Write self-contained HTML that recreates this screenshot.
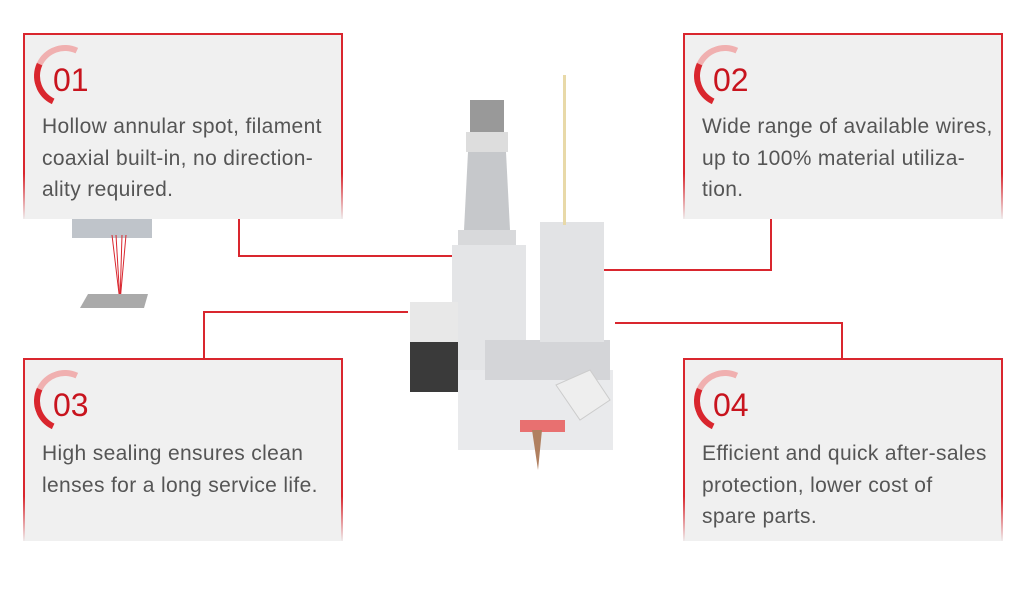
<!DOCTYPE html>
<html><head><style>
body{margin:0;width:1024px;height:596px;background:#fff;position:relative;overflow:hidden;font-family:"Liberation Sans",sans-serif}
.box{position:absolute;width:320px;background:#f0f0f0;border:2px solid #d9262e;border-bottom:none;box-sizing:border-box;
 border-image:linear-gradient(#d9262e 75%,rgba(217,38,46,0)) 1;}
.num{position:absolute;left:28px;top:27px;font-size:32px;color:#c8141e}
.ring{position:absolute;left:9px;top:10px;width:50px;height:50px;border-radius:50%;border:6px solid transparent;border-left-color:#d9262e;border-top-color:#f0b0b0;transform:rotate(-20deg)}
.txt{position:absolute;left:17px;font-size:21px;letter-spacing:0.35px;line-height:31.5px;color:#555;white-space:nowrap}
.l{position:absolute;background:#d9262e}
</style></head><body>
<div style="position:absolute;left:72px;top:218px;width:80px;height:20px;background:#bfc4ca"></div>
<svg style="position:absolute;left:78px;top:230px" width="80" height="80"><g stroke="#d9262e" stroke-width="1"><line x1="38" y1="5" x2="42" y2="72"/><line x1="44" y1="5" x2="42" y2="72"/><line x1="34" y1="5" x2="42" y2="72"/><line x1="48" y1="5" x2="42" y2="72"/></g><polygon points="10,64 70,64 66,78 2,78" fill="#aaa"/></svg>

<div class="box" style="left:23px;top:33px;height:186px"><div class="ring"></div><div class="num">01</div><div class="txt" style="top:76px">Hollow annular spot, filament<br>coaxial built-in, no direction-<br>ality required.</div></div>
<div class="box" style="left:683px;top:33px;height:186px"><div class="ring"></div><div class="num">02</div><div class="txt" style="top:76px">Wide range of available wires,<br>up to 100% material utiliza-<br>tion.</div></div>
<div class="box" style="left:23px;top:358px;height:183px"><div class="ring"></div><div class="num">03</div><div class="txt" style="top:78px">High sealing ensures clean<br>lenses for a long service life.</div></div>
<div class="box" style="left:683px;top:358px;height:183px"><div class="ring"></div><div class="num">04</div><div class="txt" style="top:78px">Efficient and quick after-sales<br>protection, lower cost of<br>spare parts.</div></div>

<div class="l" style="left:238px;top:219px;width:2px;height:38px"></div>
<div class="l" style="left:238px;top:255px;width:215px;height:2px"></div>
<div class="l" style="left:203px;top:311px;width:2px;height:47px"></div>
<div class="l" style="left:203px;top:311px;width:205px;height:2px"></div>
<div class="l" style="left:770px;top:219px;width:2px;height:52px"></div>
<div class="l" style="left:602px;top:269px;width:170px;height:2px"></div>
<div class="l" style="left:841px;top:322px;width:2px;height:36px"></div>
<div class="l" style="left:615px;top:322px;width:228px;height:2px"></div>

<svg style="position:absolute;left:380px;top:70px" width="280" height="410">
<rect x="90" y="30" width="34" height="35" fill="#999"/>
<rect x="86" y="62" width="42" height="20" fill="#ddd"/>
<polygon points="88,82 126,82 130,160 84,160" fill="#c6c8cb"/>
<rect x="78" y="160" width="58" height="20" fill="#d8d9db"/>
<rect x="72" y="175" width="74" height="140" fill="#e4e5e7"/>
<rect x="30" y="232" width="48" height="40" fill="#e8e8e8"/>
<rect x="30" y="272" width="48" height="50" fill="#3a3a3a"/>
<rect x="78" y="300" width="155" height="80" fill="#e9eaec"/>
<rect x="105" y="270" width="125" height="40" fill="#d4d5d8"/>
<rect x="160" y="152" width="64" height="120" fill="#e2e3e5"/>
<rect x="183" y="5" width="3" height="150" fill="#e8d9a8"/>
<polygon points="176,315 210,300 230,330 200,350" fill="#eee" stroke="#ccc"/>
<rect x="140" y="350" width="45" height="12" fill="#e87070"/>
<polygon points="152,360 162,360 158,400" fill="#b08060"/>
</svg>
</body></html>
